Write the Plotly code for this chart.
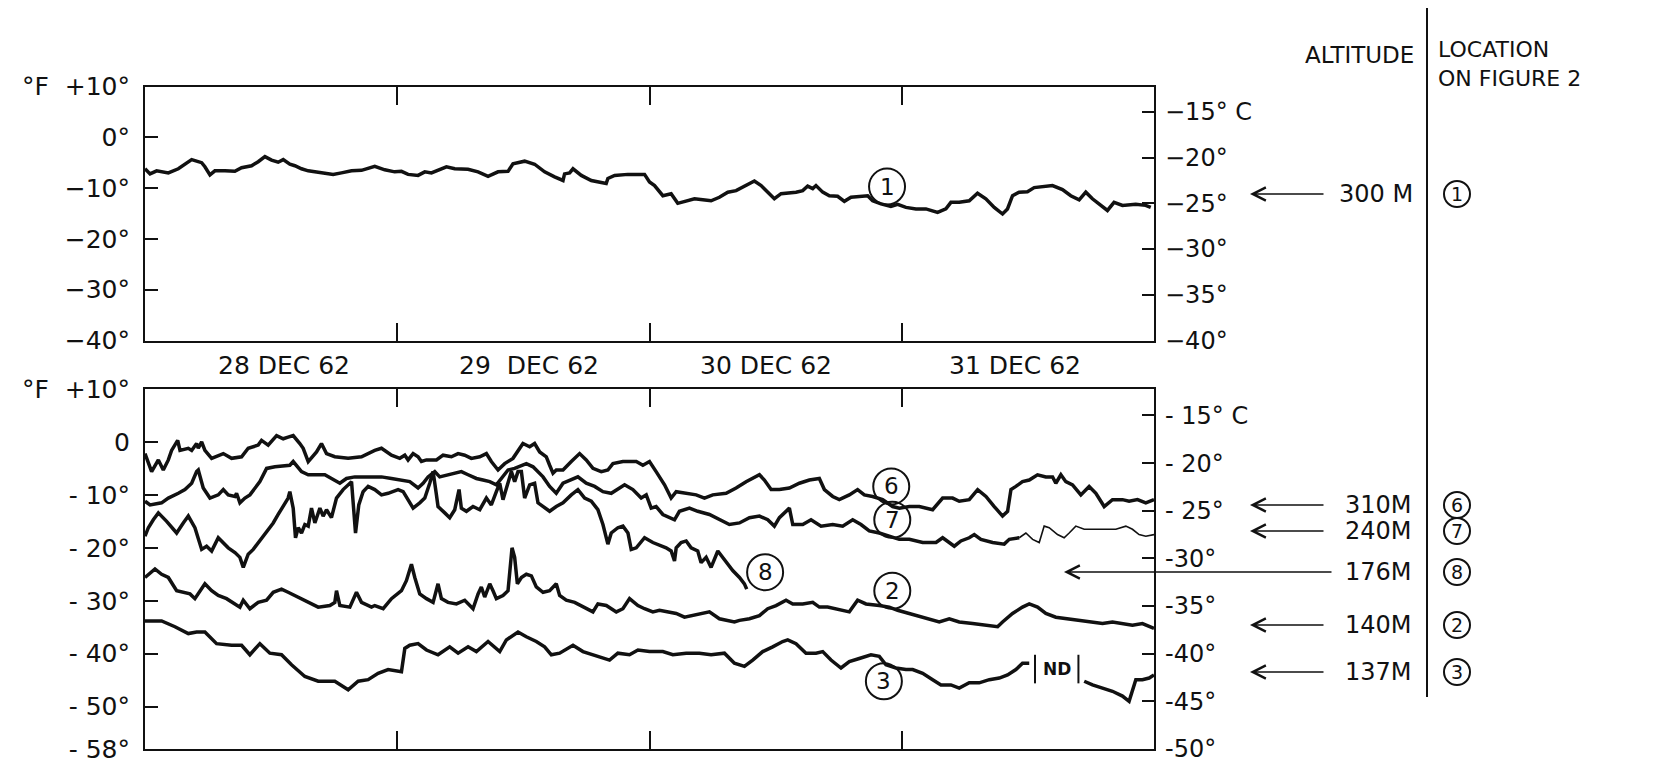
import plotly.graph_objects as go

W, H = 1656, 763

# time axis: hours after 00:00 on 28 Dec 1962; temperatures in deg F
# trace 1: 300 M
hours_1 = [0.0, 0.48, 1.11, 2.22, 3.17, 3.8, 4.44, 5.39, 5.7, 6.18, 6.65, 7.6, 8.55, 9.19, 10.14, 10.77,
           11.41, 12.04, 12.67, 13.15, 13.78, 14.26, 14.89, 15.53, 16.32, 17.11, 17.9, 18.69, 19.65, 20.6,
           21.86, 22.81, 23.76, 24.4, 25.03, 25.98, 26.62, 27.25, 27.88, 28.68, 29.47, 30.73, 31.69, 32.64,
           33.59, 34.54, 35.01, 36.12, 37.07, 38.02, 38.97, 39.77, 39.92, 40.4, 40.72, 41.51, 42.46, 43.25,
           43.88, 44.04, 44.68, 45.94, 47.53, 48.0, 48.48,
           49.27, 50.06, 50.69, 51.49, 52.28, 53.07, 53.86, 54.65, 55.45, 56.24, 57.19, 57.98, 58.62, 59.25,
           59.88, 60.52, 61.31, 61.94, 62.58, 63.05, 63.53, 63.84, 64.48, 65.11, 65.9, 66.54, 67.17, 67.96,
           68.76, 69.23, 70.02, 70.97, 71.61, 72.4, 73.35, 74.3, 74.93, 75.41, 76.2, 76.68, 77.47, 78.42,
           79.21, 80.0, 80.8, 81.59, 82.06, 82.54, 83.17, 83.96, 84.6, 85.39, 86.34, 87.29, 88.08, 88.88,
           89.51, 90.14, 90.94, 91.57, 92.2, 93.0, 94.26, 95.21, 95.69]
temp_1 = [-6.2, -7.2, -6.6, -7.0, -6.2, -5.2, -4.4, -5.0, -5.8, -7.4, -6.6, -6.6, -6.7, -6.0, -5.6, -4.8,
          -3.8, -4.5, -4.9, -4.4, -5.3, -5.6, -6.2, -6.6, -6.8, -7.0, -7.3, -7.0, -6.6, -6.5,
          -5.7, -6.4, -6.8, -6.7, -7.3, -7.5, -6.8, -7.0, -6.4, -5.8, -6.2, -6.3, -6.8, -7.7,
          -6.8, -6.7, -5.2, -4.7, -5.3, -6.8, -7.8, -8.5, -7.2, -7.0, -6.2, -7.5, -8.5, -8.8,
          -9.1, -8.1, -7.5, -7.3, -7.3, -8.8, -9.5,
          -11.5, -11.1, -13.0, -12.5, -12.1, -12.3, -12.5, -11.8, -10.8, -10.5, -9.5, -8.6, -9.5, -10.8,
          -12.1, -11.1, -11.0, -10.8, -10.5, -9.6, -10.1, -9.5, -10.8, -11.5, -11.6, -12.6, -11.8, -11.7,
          -11.5, -12.5, -13.1, -13.6, -13.2, -13.8, -14.1, -14.1, -14.4, -14.8, -14.1, -12.8, -12.8, -12.5,
          -11.0, -12.1, -13.8, -15.1, -14.1, -11.5, -10.8, -10.7, -9.9, -9.7, -9.5, -10.3, -11.5, -12.3,
          -10.8, -12.1, -13.4, -14.4, -12.8, -13.4, -13.2, -13.4, -13.8]

# trace 6: 310 M
hours_6 = [0.0, 0.63, 1.27, 1.74, 2.22, 2.53, 3.11, 3.33, 4.12, 4.44, 4.91, 5.07, 5.39, 5.70, 6.34, 7.45,
           8.24, 9.19, 9.82, 10.77, 11.09, 11.72, 12.52, 13.15, 13.62, 14.10, 14.73, 15.05, 15.53, 16.32,
           16.79, 17.27, 18.06, 19.33, 20.6, 21.86, 22.5, 23.45,
           24.24, 24.72, 25.03, 25.51, 25.98, 26.3, 26.78, 27.73, 28.36, 29.15, 29.79, 30.42, 31.05, 31.85,
           32.48, 32.95, 33.59, 34.22, 35.01, 35.49, 35.96, 36.6, 37.07, 37.55, 38.18, 38.5, 38.82, 39.13,
           39.77, 40.56, 41.35, 41.98, 42.62, 43.41, 44.04, 44.52, 45.47, 46.74, 47.37, 48.0, 48.48,
           48.63, 49.43, 50.06, 50.54, 51.49, 52.44, 53.23, 54.02, 55.29, 56.24, 57.19, 57.82, 58.46, 58.93,
           59.57, 60.36, 61.31, 62.26, 63.21, 64.16, 64.64, 65.43, 66.06, 67.01, 67.8, 68.44, 69.23, 70.18,
           71.13,
           71.77, 72.72, 73.67, 74.94, 75.89, 76.84, 77.47, 78.42, 79.22, 80.01, 80.8, 81.59, 82.07, 82.39,
           82.86, 83.49, 84.13, 84.92, 85.71, 86.35, 86.66, 87.14, 87.61, 88.25, 89.04, 89.83, 90.47, 91.26,
           92.05, 93.0, 93.63, 94.43, 95.22, 96.0]
temp_6 = [-2.2, -5.6, -3.4, -5.3, -3.4, -1.6, 0.3, -1.6, -1.2, -1.6, -0.3, -1.2, 0.0, -1.6, -3.1, -2.2,
          -3.1, -2.8, -1.2, -0.6, 0.3, -0.6, 1.2, 0.6, 0.9, 1.2, -0.3, -1.2, -3.7, -1.9,
          -0.3, -2.2, -2.8, -3.1, -2.8, -1.6, -1.2, -2.5,
          -3.1, -2.5, -3.4, -2.2, -2.8, -3.7, -3.4, -3.4, -2.5, -2.8, -2.2, -2.5, -3.1, -2.8,
          -2.2, -3.7, -5.3, -4.1, -3.1, -1.6, -0.3, -0.9, -0.3, -1.9, -2.8, -4.4, -5.9, -5.3,
          -5.3, -3.7, -2.2, -3.4, -5.0, -5.6, -5.3, -4.1, -3.7, -3.7, -4.4, -3.7, -5.0,
          -5.6, -8.1, -10.6, -9.4, -9.7, -10.0, -10.6, -10.0, -9.7, -8.7, -7.5, -6.9, -6.2, -7.2,
          -9.0, -9.0, -8.7, -7.8, -7.2, -6.9, -9.0, -10.3, -10.9, -10.0, -9.0, -10.0, -10.3, -10.9,
          -12.2,
          -12.5, -12.2, -12.2, -12.8, -10.6, -10.6, -11.2, -10.9, -9.0, -10.3, -12.2, -14.0, -13.1, -9.0,
          -8.4, -7.5, -7.2, -6.2, -6.6, -6.6, -7.8, -6.2, -7.5, -8.1, -10.0, -8.4, -9.7, -12.2,
          -10.9, -10.9, -11.2, -10.9, -11.5, -10.9]

# trace 7: 240 M
hours_7 = [0.0, 0.48, 1.58, 2.22, 3.17, 3.8, 4.44, 4.91, 5.07, 5.54, 6.18, 6.97, 7.45, 7.92, 8.56, 8.71,
           9.03, 9.51, 9.98, 10.46, 10.93, 11.57, 12.36, 13.78, 14.1, 14.89, 15.53, 17.11, 18.06, 18.54,
           19.17, 19.96, 21.23, 22.5, 23.45,
           24.56, 25.19, 25.98, 26.46, 26.93, 27.57, 28.04, 28.83, 29.63, 30.1, 30.74, 31.53, 32.16, 32.8,
           33.43, 34.06, 34.54, 35.17, 35.81, 36.28, 36.92, 37.39, 37.87, 38.5, 39.13, 39.77, 40.56, 41.19,
           41.98, 42.78, 43.57, 44.36, 45.15, 45.63, 46.42, 47.21, 47.69,
           48.16, 48.63, 49.27, 50.38, 50.85, 51.8, 52.59, 53.7, 54.65, 55.6, 56.56, 57.51, 58.46, 59.25,
           59.88, 60.36, 61.31, 61.63, 62.58, 63.37, 64.32, 65.43, 66.38, 67.33, 68.12, 68.91, 69.86, 70.81,
           71.76,
           72.72, 73.99, 75.26, 75.89, 77.0, 77.63, 78.42, 78.9, 79.53, 80.64, 81.75, 82.23, 83.18, 83.81,
           84.45, 85.08, 85.55, 86.03, 86.82, 87.45, 87.93, 88.56, 89.36, 90.47, 91.42, 92.37, 93.32, 93.95,
           94.58, 95.22, 96.0]
temp_7 = [-11.2, -11.9, -11.5, -10.6, -9.7, -9.0, -7.8, -5.6, -5.3, -8.7, -10.6, -10.0, -9.0, -10.0, -10.3, -9.7,
          -11.5, -10.6, -10.0, -8.7, -7.5, -5.0, -4.7, -4.4, -3.7, -5.6, -6.2, -6.2, -7.2, -7.8,
          -6.9, -6.6, -6.6, -6.6, -6.9,
          -7.2, -7.5, -8.7, -7.8, -6.6, -5.6, -6.6, -6.2, -5.9, -5.6, -6.2, -6.9, -7.2, -7.5,
          -8.1, -6.6, -5.3, -5.0, -4.4, -4.1, -4.7, -5.6, -6.6, -8.4, -9.7, -7.8, -7.2, -6.6,
          -7.8, -8.4, -9.4, -9.7, -8.7, -8.1, -9.0, -10.6, -10.0,
          -12.5, -12.2, -13.7, -14.7, -13.1, -12.5, -13.1, -13.7, -14.7, -15.6, -15.3, -14.3, -14.0, -14.7,
          -15.9, -14.3, -12.5, -15.6, -15.6, -14.7, -15.9, -15.6, -15.9, -14.7, -15.6, -16.8, -17.2, -17.8,
          -18.4,
          -18.4, -19.0, -19.0, -18.1, -19.7, -18.7, -18.1, -17.5, -18.4, -19.0, -19.3, -18.4, -18.1, -17.2,
          -18.4, -19.0, -15.9, -16.2, -17.5, -18.1, -17.2, -15.9, -16.5, -16.5, -16.5, -16.5, -15.9, -16.5,
          -17.5, -17.8, -17.5]

# trace 8: 176 M (record ends on 30 Dec)
hours_8 = [0.0, 0.32, 0.79, 1.27, 2.06, 2.53, 3.01, 3.64, 4.12, 4.75, 5.07, 5.39, 5.86, 6.34, 6.97, 7.45,
           7.92, 8.56, 9.03, 9.35, 9.82, 10.3, 10.77, 11.25, 11.72, 12.2, 12.67, 13.15, 13.62, 13.78,
           14.1, 14.32, 14.58, 14.89, 15.21, 15.53, 15.84, 16.16, 16.64, 16.95, 17.27, 17.74, 18.22, 18.85,
           19.33, 19.65, 20.03, 20.34, 20.75, 21.23, 21.86, 22.5, 23.13, 24.08,
           24.56, 25.03, 25.51, 26.14, 26.62, 27.09, 27.41, 27.73, 27.88, 28.52, 28.99, 29.47, 29.88, 30.1,
           30.58, 31.21, 31.85, 32.48, 32.95, 33.43, 33.75, 34.06, 34.54, 34.86, 35.17, 35.49, 35.81, 36.12,
           36.6, 37.07, 37.39, 37.87, 38.5, 39.13, 39.77, 40.56, 41.19, 41.83, 42.46, 43.09, 43.57, 44.04,
           44.36, 44.99, 45.47, 45.95, 46.26, 46.74, 47.53, 48.32,
           49.58, 50.06, 50.38, 50.54, 51.01, 51.49, 51.96, 52.59, 52.91, 53.39, 53.86, 54.5, 54.97, 55.45,
           55.92, 56.56, 57.03, 57.25]
temp_8 = [-17.8, -16.2, -14.7, -13.4, -15.0, -16.2, -17.2, -15.3, -14.0, -16.2, -18.4, -20.3, -19.7, -20.6, -18.1, -19.0,
          -20.0, -20.9, -21.8, -23.7, -21.2, -20.3, -19.0, -17.8, -16.5, -15.3, -13.7, -12.2, -10.6, -9.4,
          -12.5, -18.1, -16.2, -17.2, -15.6, -15.9, -12.5, -15.3, -12.5, -14.0, -12.8, -14.3, -10.6, -9.0,
          -8.1, -7.5, -17.2, -11.9, -9.4, -8.4, -9.0, -10.0, -9.7, -9.0,
          -9.4, -10.9, -12.5, -11.5, -10.6, -7.8, -5.6, -10.0, -12.2, -13.4, -14.3, -12.8, -9.0, -12.5,
          -13.1, -12.2, -12.8, -10.6, -11.9, -9.4, -7.8, -10.9, -7.5, -5.6, -7.5, -5.6, -5.6, -10.6,
          -8.1, -7.8, -11.5, -12.2, -13.1, -12.2, -11.5, -10.0, -9.0, -10.6, -11.2, -12.8, -15.6, -19.3,
          -17.2, -16.2, -15.9, -17.2, -20.3, -20.0, -18.1, -19.0,
          -20.0, -20.6, -22.5, -20.0, -19.0, -18.7, -20.0, -20.6, -22.8, -21.8, -23.7, -20.6, -21.8, -23.1,
          -24.3, -25.6, -26.8, -27.8]

# trace 2: 140 M
hours_2 = [0.0, 0.95, 1.58, 2.22, 3.01, 3.64, 4.28, 4.75, 5.23, 5.7, 6.34, 6.97, 7.76, 8.56, 9.03, 9.35,
           9.98, 10.77, 11.57, 12.2, 12.99, 13.62, 14.58, 15.53, 16.48, 17.59, 18.06, 18.22, 18.54, 19.49,
           20.12, 20.6, 21.55, 21.86, 22.66, 23.45, 24.4,
           24.87, 25.35, 25.67, 26.14, 26.78, 27.41, 27.88, 28.2, 28.83, 29.63, 30.42, 31.21, 31.69, 32.0,
           32.32, 32.8, 33.11, 33.43, 34.06, 34.54, 34.92, 35.17, 35.43, 35.81, 36.28, 36.76, 37.23, 37.87,
           38.5, 39.13, 39.45, 40.08, 40.88, 41.67, 42.62, 43.09, 43.89, 44.84, 45.47, 46.1, 46.9, 47.53,
           48.32,
           48.95, 49.58, 50.54, 51.33, 52.12, 53.07, 53.7, 54.65, 55.45, 56.08, 56.56, 57.51, 58.46, 59.25,
           60.04, 60.99, 61.63, 62.58, 63.53, 64.16, 64.95, 65.74, 67.01, 67.8, 68.6, 69.86, 70.81, 71.61,
           72.72, 73.99, 74.94, 75.57, 76.52, 77.47, 78.74, 80.01, 81.12, 81.59, 82.54, 83.49, 84.13, 84.92,
           85.71, 86.66, 87.93, 89.04, 90.15, 91.1, 92.05, 93.0, 93.95, 94.9, 96.0]
temp_2 = [-25.6, -24.0, -25.0, -25.6, -28.1, -28.4, -28.7, -29.6, -28.1, -26.8, -28.1, -29.0, -29.6, -30.6, -31.2, -29.9,
          -31.5, -30.3, -29.9, -28.4, -27.8, -28.4, -29.3, -30.3, -31.2, -30.9, -30.3, -28.1, -30.9, -31.2,
          -28.4, -30.3, -31.2, -30.9, -31.5, -29.6, -28.1,
          -26.2, -23.1, -25.6, -28.7, -29.6, -30.3, -26.8, -29.6, -30.3, -30.6, -29.9, -31.5, -28.7, -27.4,
          -29.3, -26.8, -28.1, -29.6, -29.0, -28.1, -20.0, -21.8, -26.8, -25.6, -25.0, -25.3, -27.4, -28.4,
          -28.1, -26.8, -29.0, -29.9, -30.3, -31.2, -32.1, -30.6, -30.9, -32.1, -31.5, -29.6, -30.9, -31.5,
          -32.1,
          -31.8, -32.1, -32.4, -33.1, -32.8, -32.4, -32.1, -33.4, -33.7, -34.0, -33.7, -33.4, -32.8, -31.5,
          -30.9, -29.9, -30.6, -30.6, -30.3, -31.2, -31.2, -31.5, -32.1, -29.9, -30.6, -30.9, -31.2, -31.8,
          -32.4, -33.1, -33.7, -34.0, -33.4, -34.0, -34.3, -34.6, -34.9, -34.0, -32.4, -31.2, -30.6, -31.2,
          -32.4, -33.1, -33.4, -33.7, -34.0, -34.3, -34.0, -34.3, -34.6, -34.3, -35.2]

# trace 3: 137 M (None = no data)
hours_3 = [0.0, 1.58, 2.85, 4.12, 4.91, 5.7, 6.81, 8.24, 9.19, 9.98, 10.93, 11.88, 12.99, 13.94, 15.21, 16.48,
           18.06, 19.33, 20.28, 21.23, 22.18, 23.13, 24.4,
           24.72, 25.19, 25.98, 26.78, 27.88, 28.99, 29.79, 30.74, 31.53, 32.64, 33.75, 34.38, 35.49, 36.28,
           37.23, 38.02, 38.66, 39.45, 40.72, 41.67, 43.25, 44.2, 44.99, 46.1, 46.9, 48.0,
           49.27, 50.22, 51.49, 52.75, 53.86, 55.13, 56.08, 57.03, 57.82, 58.77, 59.72, 60.67, 61.15, 61.94,
           62.89, 63.84, 64.48, 65.27, 66.22, 67.01, 67.96, 69.07, 69.86, 70.5, 71.45, 72.4,
           73.04, 73.99, 74.94, 75.73, 76.68, 77.47, 78.42, 79.37, 80.33, 81.28, 82.07, 82.86, 83.49, 84.13,
           86.7,
           89.36, 90.15, 91.1, 92.05, 93.0, 93.63, 94.27, 94.9, 95.54, 96.0]
temp_3 = [-33.8, -33.8, -34.9, -36.2, -35.9, -35.9, -38.1, -38.4, -38.4, -40.2, -38.1, -39.9, -40.2, -42.1, -44.3, -45.2,
          -45.2, -46.8, -45.2, -44.9, -43.7, -43.0, -43.4,
          -39.0, -38.4, -38.1, -39.3, -40.2, -38.7, -39.9, -38.7, -39.6, -37.7, -39.6, -37.4, -35.9, -36.8,
          -37.7, -38.7, -40.2, -39.9, -38.4, -39.6, -40.5, -41.2, -39.9, -40.2, -39.3, -39.6,
          -39.6, -40.2, -39.9, -39.9, -40.2, -39.9, -41.8, -42.4, -41.2, -39.6, -38.7, -37.7, -37.4, -38.1,
          -39.9, -39.9, -39.6, -41.2, -42.7, -41.5, -40.9, -40.2, -40.5, -42.1, -42.7, -43.0,
          -43.0, -43.7, -44.9, -45.9, -45.9, -46.5, -45.5, -45.5, -44.9, -44.6, -44.0, -43.0, -41.8, -41.8,
          None,
          -45.2, -45.9, -46.5, -47.1, -48.0, -49.0, -44.9, -44.9, -44.6, -44.0]

for hs, ts in [(hours_1, temp_1), (hours_6, temp_6), (hours_7, temp_7),
               (hours_8, temp_8), (hours_2, temp_2), (hours_3, temp_3)]:
    assert len(hs) == len(ts), (len(hs), len(ts))

day_labels = ["28 DEC 62", "29  DEC 62", "30 DEC 62", "31 DEC 62"]
day_label_hours = [13.2, 36.5, 59.1, 82.8]
day_breaks = [24, 48, 72]

f_ticks_top = [10, 0, -10, -20, -30, -40]
f_text_top = ["°F\u00a0\u00a0+10°", "0°", "−10°", "−20°", "−30°", "−40°"]
f_ticks_bot = [10, 0, -10, -20, -30, -40, -50, -58]
f_text_bot = ["°F\u00a0\u00a0+10°", "0", "-\u00a010°", "-\u00a020°", "-\u00a030°", "-\u00a040°", "-\u00a050°", "-\u00a058°"]
c_ticks_top = [-15, -20, -25, -30, -35, -40]
c_text_top = ["−15°\u00a0C", "−20°", "−25°", "−30°", "−35°", "−40°"]
c_ticks_bot = [-15, -20, -25, -30, -35, -40, -45, -50]
c_text_bot = ["-\u00a015°\u00a0C", "-\u00a020°", "-\u00a025°", "-30°", "-35°", "-40°", "-45°", "-50°"]

altitudes = ["310M", "240M", "176M", "140M", "137M"]
station_ids = ["6", "7", "8", "2", "3"]


def c_of_f(f):
    return (f - 32) * 5 / 9


def px(x):
    return x / W


def py(y):
    return 1 - y / H


INK = "#111111"
FONT = "DejaVu Sans"

fig = go.Figure()

def add_line(x, y, xa, ya, width=3.5):
    fig.add_trace(go.Scatter(x=x, y=y, xaxis=xa, yaxis=ya, mode="lines",
                             line=dict(color=INK, width=width), connectgaps=False,
                             showlegend=False, hoverinfo="skip"))

add_line(hours_1, temp_1, "x", "y")
add_line(hours_6, temp_6, "x2", "y2")
split = hours_7.index(83.18)
add_line(hours_7[:split + 1], temp_7[:split + 1], "x2", "y2")
add_line(hours_7[split:], temp_7[split:], "x2", "y2", width=1.6)
add_line(hours_8, temp_8, "x2", "y2")
add_line(hours_2, temp_2, "x2", "y2")
add_line(hours_3, temp_3, "x2", "y2")

# invisible traces so the Celsius axes get drawn
fig.add_trace(go.Scatter(x=[0, 96], y=[c_of_f(-40), c_of_f(10)], xaxis="x", yaxis="y3", mode="lines",
                         line=dict(width=0), showlegend=False, hoverinfo="skip"))
fig.add_trace(go.Scatter(x=[0, 96], y=[c_of_f(-58), c_of_f(10)], xaxis="x2", yaxis="y4", mode="lines",
                         line=dict(width=0), showlegend=False, hoverinfo="skip"))

x_dom = [145 / W, 1154 / W]
top_dom = [py(340.5), py(86.5)]
bot_dom = [py(749), py(389)]

xax = dict(domain=x_dom, range=[0, 96], tickvals=day_breaks, ticks="inside", ticklen=18, tickwidth=2,
           tickcolor=INK, mirror="ticks", showline=True, linecolor=INK, linewidth=2, automargin=False,
           showticklabels=False, showgrid=False, zeroline=False, fixedrange=True)
yl = dict(ticks="inside", ticklen=13, tickwidth=2, tickcolor=INK, showline=True, linecolor=INK,
          linewidth=2, mirror=True, showgrid=False, zeroline=False, ticklabelstandoff=8,
          ticklabeloverflow="allow", automargin=False, tickfont=dict(size=25))
yr = dict(ticks="inside", ticklen=12, tickwidth=2, tickcolor=INK, showline=False, side="right",
          showgrid=False, zeroline=False, ticklabelstandoff=10, ticklabeloverflow="allow",
          automargin=False, tickfont=dict(size=24))

fig.update_layout(
    width=W, height=H, margin=dict(l=0, r=0, t=0, b=0, autoexpand=False),
    paper_bgcolor="white", plot_bgcolor="white",
    font=dict(family=FONT, size=22, color=INK),
    xaxis=dict(xax, anchor="y"),
    xaxis2=dict(xax, anchor="y2"),
    yaxis=dict(yl, domain=top_dom, anchor="x", range=[-40, 10], tickvals=f_ticks_top, ticktext=f_text_top),
    yaxis2=dict(yl, domain=bot_dom, anchor="x2", range=[-58, 10], tickvals=f_ticks_bot, ticktext=f_text_bot),
    yaxis3=dict(yr, overlaying="y", anchor="x", range=[c_of_f(-40), c_of_f(10)],
                tickvals=c_ticks_top, ticktext=c_text_top),
    yaxis4=dict(yr, overlaying="y2", anchor="x2", range=[c_of_f(-58), c_of_f(10)],
                tickvals=c_ticks_bot, ticktext=c_text_bot),
)

ann = []
shapes = []

# day labels between the panels
for lab, h in zip(day_labels, day_label_hours):
    ann.append(dict(x=h, y=py(365), xref="x", yref="paper", text=lab, showarrow=False,
                    xanchor="center", yanchor="middle", font=dict(size=25)))

# circled station numbers on the traces
in_plot = [("1", 70.6, -9.7, "x", "y"), ("6", 71.0, -8.4, "x2", "y2"), ("7", 71.1, -14.7, "x2", "y2"),
           ("8", 59.0, -24.6, "x2", "y2"), ("2", 71.1, -28.1, "x2", "y2"), ("3", 70.3, -45.2, "x2", "y2")]
for num, h, f, xr, yrf in in_plot:
    shapes.append(dict(type="circle", xref=xr, yref=yrf, xsizemode="pixel", ysizemode="pixel",
                       xanchor=h, yanchor=f, x0=-18, x1=18, y0=-18, y1=18,
                       line=dict(color=INK, width=2)))
    ann.append(dict(x=h, y=f, xref=xr, yref=yrf, text=num, showarrow=False,
                    font=dict(size=23), xanchor="center", yanchor="middle"))

# no-data marker on trace 3
gap = temp_3.index(None)
nd_left = hours_3[gap - 1] + 0.55
nd_right = hours_3[gap + 1] - 0.55
for xv in (nd_left, nd_right):
    shapes.append(dict(type="line", xref="x2", yref="y2", x0=xv, x1=xv, y0=-40.2, y1=-45.6,
                       line=dict(color=INK, width=2)))
ann.append(dict(x=(nd_left + nd_right) / 2, y=-42.9, xref="x2", yref="y2", text="<b>ND</b>",
                showarrow=False, font=dict(size=17)))

# right-hand key
shapes.append(dict(type="line", xref="paper", yref="paper", x0=px(1427), x1=px(1427), y0=py(8), y1=py(697),
                   line=dict(color=INK, width=2)))
ann.append(dict(x=px(1416), y=py(55), xref="paper", yref="paper", text="ALTITUDE", showarrow=False,
                xanchor="right", yanchor="middle", font=dict(size=23)))
ann.append(dict(x=px(1436), y=py(64), xref="paper", yref="paper", text="LOCATION<br>ON FIGURE 2",
                showarrow=False, align="left", xanchor="left", yanchor="middle", font=dict(size=22)))

key_rows = [("300 M", "1", 194, 1250, "right")] + [
    (alt, sid, yy, head, "left") for alt, sid, yy, head in
    zip(altitudes, station_ids, [505, 531, 572, 625, 672], [1250, 1250, 1064, 1250, 1250])]
for alt, sid, yy, head, align in key_rows:
    tail = 1325 if head != 1064 else 1333
    ann.append(dict(x=px(head), y=py(yy), xref="paper", yref="paper", text="", showarrow=True,
                    ax=tail - head, ay=0, arrowhead=5, arrowsize=1.6, arrowwidth=1.6, arrowcolor=INK))
    if align == "right":
        ann.append(dict(x=px(1415), y=py(yy), xref="paper", yref="paper", text=alt, showarrow=False,
                        xanchor="right", yanchor="middle", font=dict(size=24)))
    else:
        ann.append(dict(x=px(1343), y=py(yy), xref="paper", yref="paper", text=alt, showarrow=False,
                        xanchor="left", yanchor="middle", font=dict(size=24)))
    shapes.append(dict(type="circle", xref="paper", yref="paper", xsizemode="pixel", ysizemode="pixel",
                       xanchor=px(1457), yanchor=py(yy), x0=-13, x1=13, y0=-13, y1=13,
                       line=dict(color=INK, width=2)))
    ann.append(dict(x=px(1457), y=py(yy), xref="paper", yref="paper", text=sid, showarrow=False,
                    xanchor="center", yanchor="middle", font=dict(size=19)))

fig.update_layout(annotations=ann, shapes=shapes)

# the page body has a default 8px margin; remove it so the figure fills the window exactly
fig.write_html("out.html", config={"displayModeBar": False},
               post_script="document.body.style.margin='0px';")
